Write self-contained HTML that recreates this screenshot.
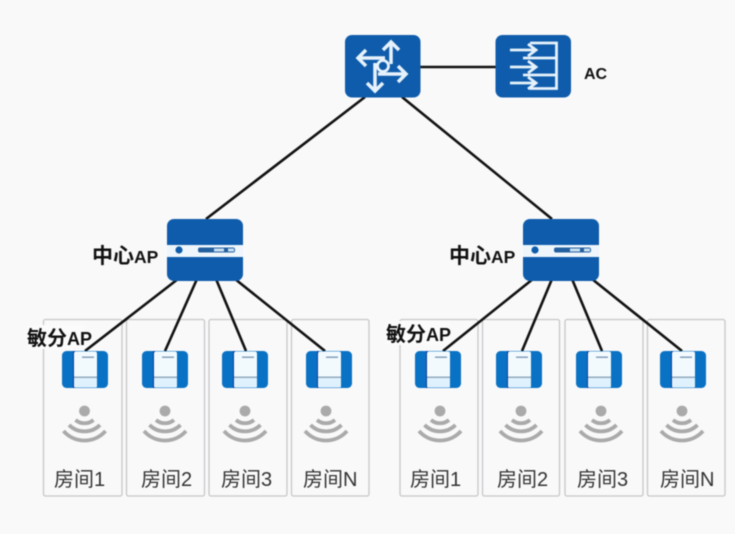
<!DOCTYPE html>
<html><head><meta charset="utf-8"><style>
html,body{margin:0;padding:0;background:#f9f9fa;width:735px;height:534px;overflow:hidden}
svg{display:block;filter:blur(.45px)}
.lab{font-family:"Liberation Sans","Noto Sans CJK SC",sans-serif;fill:#333;font-size:20px}
.b{font-family:"Liberation Sans","Noto Sans CJK SC",sans-serif;fill:#111;font-weight:bold}
</style></head><body>
<svg width="735" height="534" viewBox="0 0 735 534" xmlns="http://www.w3.org/2000/svg">
<defs>
<g id="ap">
<rect x="0" y="0" width="46" height="37" rx="4.500" fill="#0a72c4"/>
<rect x="11" y="0" width="2" height="37" fill="#103f9c"/>
<rect x="12" y="0.500" width="23" height="36" rx="2" fill="#f3fafe"/>
<rect x="12" y="26" width="23" height="10.500" rx="1" fill="#dff1fc"/>
<rect x="12" y="25.500" width="23" height="1.500" fill="#8fa9bd"/>
<rect x="20" y="5.500" width="12" height="1.400" fill="#7d9ab5"/>
</g>
<g id="wifi" fill="none" stroke="#aaa">
<circle cx="0" cy="0" r="5.400" fill="#aaa" stroke="none"/>
<path d="M-9 9 A14 14 0 0 0 9 9" stroke-width="3.800"/>
<path d="M-15.500 14 A22 22 0 0 0 15.500 14" stroke-width="3.800"/>
<path d="M-21 20 A28 28 0 0 0 21 20" stroke-width="3.800"/>
</g>
<g id="sw">
<rect x="0" y="0" width="76" height="62" rx="7" fill="#0f5cac"/>
<rect x="0" y="26" width="76" height="12" fill="#eef6fc"/>
<circle cx="12" cy="31" r="3.600" fill="#0f5cac"/>
<rect x="31" y="28.500" width="37" height="5" rx="2" fill="#235f9f"/>
<rect x="47" y="29.500" width="10" height="3" fill="#c9dff0"/>
<rect x="61" y="29.500" width="6" height="3" fill="#c9dff0"/>
</g>
</defs>

<!-- room boxes -->
<g fill="#f9f9fa" stroke="#c6c6c6" stroke-width="1.300">
<rect x="43.500" y="319.500" width="78.500" height="176.500" rx="2"/>
<rect x="126.500" y="319.500" width="78" height="176.500" rx="2"/>
<rect x="209" y="319.500" width="78" height="176.500" rx="2"/>
<rect x="291.500" y="319.500" width="77.500" height="176.500" rx="2"/>
<rect x="400" y="319.500" width="78" height="176.500" rx="2"/>
<rect x="482.500" y="319.500" width="77" height="176.500" rx="2"/>
<rect x="565" y="319.500" width="78" height="176.500" rx="2"/>
<rect x="647.500" y="319.500" width="77.500" height="176.500" rx="2"/>
</g>
<rect x="27" y="325" width="58" height="24" fill="#fbfbfb"/>
<rect x="386" y="321" width="64" height="24" fill="#fbfbfb"/>

<!-- connectors -->
<g stroke="#111" stroke-width="2.600" fill="none">
<path d="M420 67H496"/>
<path d="M365 97L206 219"/>
<path d="M402 97L552 219"/>
<path d="M178 279L85 351"/>
<path d="M197 279L165 351"/>
<path d="M216 279L246 351"/>
<path d="M235 279L325 351"/>
<path d="M533 279L443 351"/>
<path d="M552 279L522 351"/>
<path d="M572 279L602 351"/>
<path d="M592 279L682 351"/>
</g>

<!-- router -->
<rect x="345" y="35" width="75.500" height="62.500" rx="7" fill="#0f5cac"/>
<g stroke="#e6f2fb" stroke-width="3.500" fill="none" stroke-linejoin="miter">
<path d="M391 43V64M383 50L391 42L399 50"/>
<path d="M358 58H385M366 50L358 58L366 66"/>
<path d="M375 63V91M367 83L375 91L383 83"/>
<path d="M378 74H406M398 66L406 74L398 82"/>
</g>
<circle cx="383" cy="66" r="5.500" fill="#0f5cac" stroke="#e6f2fb" stroke-width="2.800"/>

<!-- AC -->
<rect x="495.500" y="35" width="75.500" height="62.500" rx="7" fill="#0f5cac"/>
<g stroke="#e6f2fb" stroke-width="2.800" fill="none" stroke-linejoin="miter">
<path d="M530 43H556.500V88.500H530"/>
<path d="M510 50H536M528 44L536 50L528 56"/>
<path d="M510 67H536M528 61L536 67L528 73"/>
<path d="M510 83H536M528 77L536 83L528 89"/>
<path d="M523 58H556M523 75H556"/>
</g>
<text class="b" x="584" y="79" font-size="16">AC</text>

<!-- center APs -->
<use href="#sw" x="167" y="219"/>
<use href="#sw" x="523" y="219"/>
<text class="b" x="92" y="263" font-size="21">中心<tspan font-size="17.500">AP</tspan></text>
<text class="b" x="449" y="263" font-size="21">中心<tspan font-size="17.500">AP</tspan></text>

<!-- APs -->
<use href="#ap" x="62" y="351"/>
<use href="#ap" x="142" y="351"/>
<use href="#ap" x="222" y="351"/>
<use href="#ap" x="306" y="351"/>
<use href="#ap" x="415" y="351"/>
<use href="#ap" x="496" y="351"/>
<use href="#ap" x="576" y="351"/>
<use href="#ap" x="660" y="351"/>

<!-- label overlay -->
<text class="b" x="27" y="345" font-size="20" style="font-weight:600">敏分<tspan font-size="18" font-weight="bold">AP</tspan></text>
<text class="b" x="386" y="341" font-size="20" style="font-weight:600">敏分<tspan font-size="18" font-weight="bold">AP</tspan></text>

<!-- wifi -->
<use href="#wifi" x="84.500" y="411"/>
<use href="#wifi" x="165" y="411"/>
<use href="#wifi" x="245" y="411"/>
<use href="#wifi" x="326" y="411"/>
<use href="#wifi" x="440" y="411"/>
<use href="#wifi" x="521" y="411"/>
<use href="#wifi" x="601" y="411"/>
<use href="#wifi" x="682" y="411"/>

<!-- room labels -->
<text class="lab" x="54" y="486">房间1</text>
<text class="lab" x="141" y="486">房间2</text>
<text class="lab" x="221" y="486">房间3</text>
<text class="lab" x="303" y="486">房间N</text>
<text class="lab" x="410" y="486">房间1</text>
<text class="lab" x="497" y="486">房间2</text>
<text class="lab" x="577" y="486">房间3</text>
<text class="lab" x="660" y="486">房间N</text>
</svg>
</body></html>
